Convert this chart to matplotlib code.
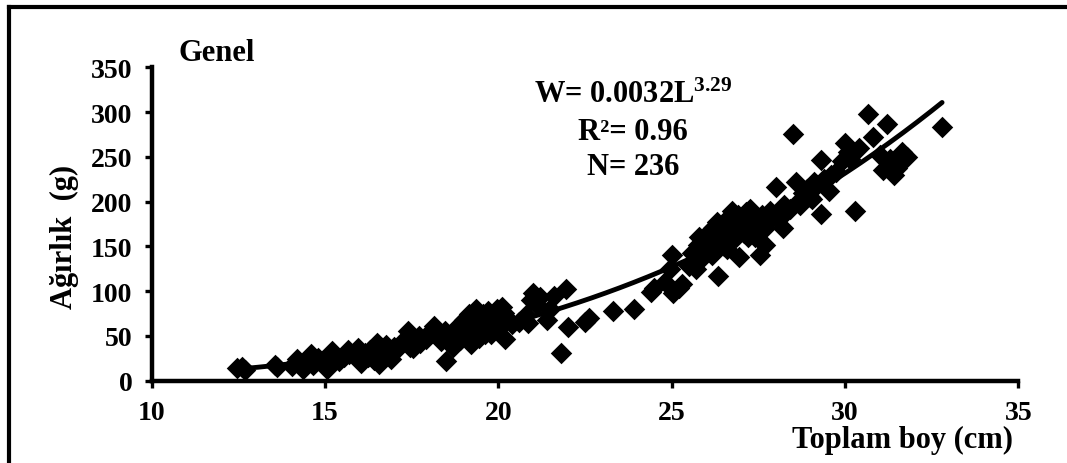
import matplotlib.pyplot as plt
import numpy as np
from matplotlib.lines import Line2D

plt.rcParams['font.family'] = ['Liberation Serif', 'DejaVu Serif']
plt.rcParams['font.weight'] = 'bold'
plt.rcParams['mathtext.fontset'] = 'custom'
plt.rcParams['mathtext.rm'] = 'Liberation Serif:bold'
plt.rcParams['mathtext.it'] = 'Liberation Serif:bold'
plt.rcParams['mathtext.bf'] = 'Liberation Serif:bold'

# total length (cm) and weight (g)
length_cm = [
    12.45, 12.7, 12.6, 13.55, 13.6, 14.05, 14.2, 14.25, 14.35, 14.5, 14.6, 14.65, 14.8, 14.9, 15.05, 15.0,
    15.2, 15.3, 15.4, 15.55, 15.65, 15.7, 15.85, 15.95, 16.0, 16.05, 16.15, 16.25, 16.3, 16.4, 16.5, 16.5,
    16.55, 16.65, 16.75, 16.8, 16.9, 17.0, 17.05,
    17.2, 17.3, 17.4, 17.45, 17.55, 17.6, 17.7, 17.75, 17.9, 18.0, 18.1, 18.15, 18.25, 18.35, 18.45, 18.5,
    18.6, 18.7, 18.75, 18.85, 18.9, 19.0, 19.0,
    19.1, 19.15, 19.2, 19.25, 19.3, 19.35, 19.4, 19.45, 19.5, 19.55, 19.6, 19.65, 19.7, 19.75, 19.8, 19.85,
    19.9, 19.95, 20.0, 20.05, 20.1, 20.2, 20.25, 20.4, 19.3, 19.6, 19.9, 20.15,
    20.6, 20.8, 20.85, 20.95, 21.0, 21.1, 21.2, 21.4, 21.5, 21.6, 21.8, 21.95, 22.0, 22.5,
    22.6, 23.3, 23.9, 24.4, 24.5, 24.8, 24.95, 25.0, 25.05,
    25.2, 25.3, 25.5, 25.6, 25.7, 25.75, 25.8, 25.9, 26.0, 26.05, 26.1, 26.2, 26.25, 26.3, 26.35, 26.4,
    26.45, 26.5, 25.95, 26.15, 26.35, 26.55,
    26.6, 26.65, 26.7, 26.75, 26.8, 26.85, 26.9, 26.95, 27.0, 27.05, 27.1, 27.15, 27.2, 27.25, 27.3, 27.35,
    27.4, 27.45, 27.5, 27.55, 27.6, 27.7, 27.75, 27.85, 26.7, 26.95, 27.2, 27.45, 27.7, 27.9,
    28.0, 28.05, 28.2, 28.25, 28.3, 28.5, 28.6, 28.65, 28.7, 28.8, 28.9, 29.0, 29.05, 29.2, 29.3, 29.3,
    29.4, 29.55, 29.6, 29.75, 29.9, 30.0, 30.1, 30.15, 28.4, 29.1,
    30.3, 30.4, 30.65, 30.8, 31.0, 31.1, 31.2, 31.25, 31.4, 31.5, 31.65, 31.8, 32.8, 31.3, 31.6,
]
weight_g = [
    14, 12, 15, 17, 15, 16, 24, 19, 13, 21, 30, 18, 25, 22, 13, 19,
    33, 26, 22, 27, 34, 30, 28, 37, 24, 20, 31, 27, 34, 23, 42, 29,
    19, 36, 40, 31, 24, 38, 34,
    41, 46, 55, 38, 36, 44, 50, 42, 47, 52, 58, 61, 49, 44, 55, 22,
    50, 38, 57, 62, 45, 68, 53,
    60, 75, 41, 67, 56, 80, 70, 48, 64, 74, 58, 68, 78, 62, 52, 71,
    66, 80, 75, 60, 82, 47, 70, 63, 63, 52, 58, 76,
    66, 73, 64, 90, 98, 84, 94, 68, 80, 95, 31, 102, 60, 66,
    70, 78, 80, 99, 103, 110, 125, 140, 98,
    104, 108, 128, 143, 125, 152, 160, 138, 147, 165, 155, 170, 145, 177, 117, 160,
    172, 150, 155, 140, 165, 178,
    147, 180, 168, 190, 175, 160, 185, 138, 172, 182, 165, 188, 178, 192, 170, 184,
    160, 175, 168, 140, 185, 152, 178, 190, 158, 168, 160, 182, 170, 182,
    216, 182, 170, 196, 188, 276, 222, 200, 196, 210, 214, 205, 203, 218, 186, 246,
    225, 212, 230, 233, 245, 265, 255, 248, 192, 222,
    190, 260, 298, 272, 252, 235, 287, 240, 230, 238, 255, 250, 283, 248, 244,
]

# power trendline shown on the chart: W = a * L^b
fit_a = 0.0032
fit_b = 3.29

fig = plt.figure(figsize=(10.67, 4.64), dpi=100)
ax = fig.add_axes([0.1422, 0.1774, 0.8122, 0.6754])

ax.scatter(length_cm, weight_g, marker='D', s=120, color='black', linewidths=0, zorder=3)

L = np.linspace(min(length_cm), max(length_cm), 200)
ax.plot(L, fit_a * L ** fit_b, color='black', lw=3.5, solid_capstyle='round', zorder=4)

ax.set_xlim(10, 35)
ax.set_ylim(0, 350)
ax.set_xticks([10, 15, 20, 25, 30, 35])
ax.set_yticks(range(0, 351, 50))
for side in ['top', 'right']:
    ax.spines[side].set_visible(False)
for side in ['left', 'bottom']:
    ax.spines[side].set_linewidth(3.2)
ax.tick_params(direction='out', length=5, width=2.4, labelsize=20, pad=9)
for lbl in ax.get_xticklabels() + ax.get_yticklabels():
    lbl.set_fontweight('bold')

fig.text(64 / 1067, 1 - 237 / 464, 'Ağırlık  (g)', rotation=90, ha='center', va='center',
         fontsize=22, fontweight='bold')
fig.text(1013 / 1067, 1 - 448 / 464, 'Toplam boy (cm)', ha='right', va='baseline',
         fontsize=22, fontweight='bold')
fig.text(178 / 1067, 1 - 61 / 464, 'Genel', ha='left', va='baseline', fontsize=22, fontweight='bold')

fig.text(633 / 1067, 1 - 103 / 464, r'W= 0.0032L$^{3.29}$', ha='center', va='baseline',
         fontsize=22, fontweight='bold')
fig.text(633 / 1067, 1 - 140 / 464, 'R²= 0.96', ha='center', va='baseline', fontsize=22, fontweight='bold')
fig.text(633 / 1067, 1 - 175 / 464, 'N= 236', ha='center', va='baseline', fontsize=22, fontweight='bold')

# outer frame (only top and left edges visible in the crop)
fig.add_artist(Line2D([8.5 / 1067, 8.5 / 1067], [0, 1 - 8 / 464], color='black', lw=3,
                      transform=fig.transFigure))
fig.add_artist(Line2D([8.5 / 1067, 1], [1 - 8 / 464, 1 - 8 / 464], color='black', lw=3,
                      transform=fig.transFigure))

fig.savefig('out.png', dpi=100)
